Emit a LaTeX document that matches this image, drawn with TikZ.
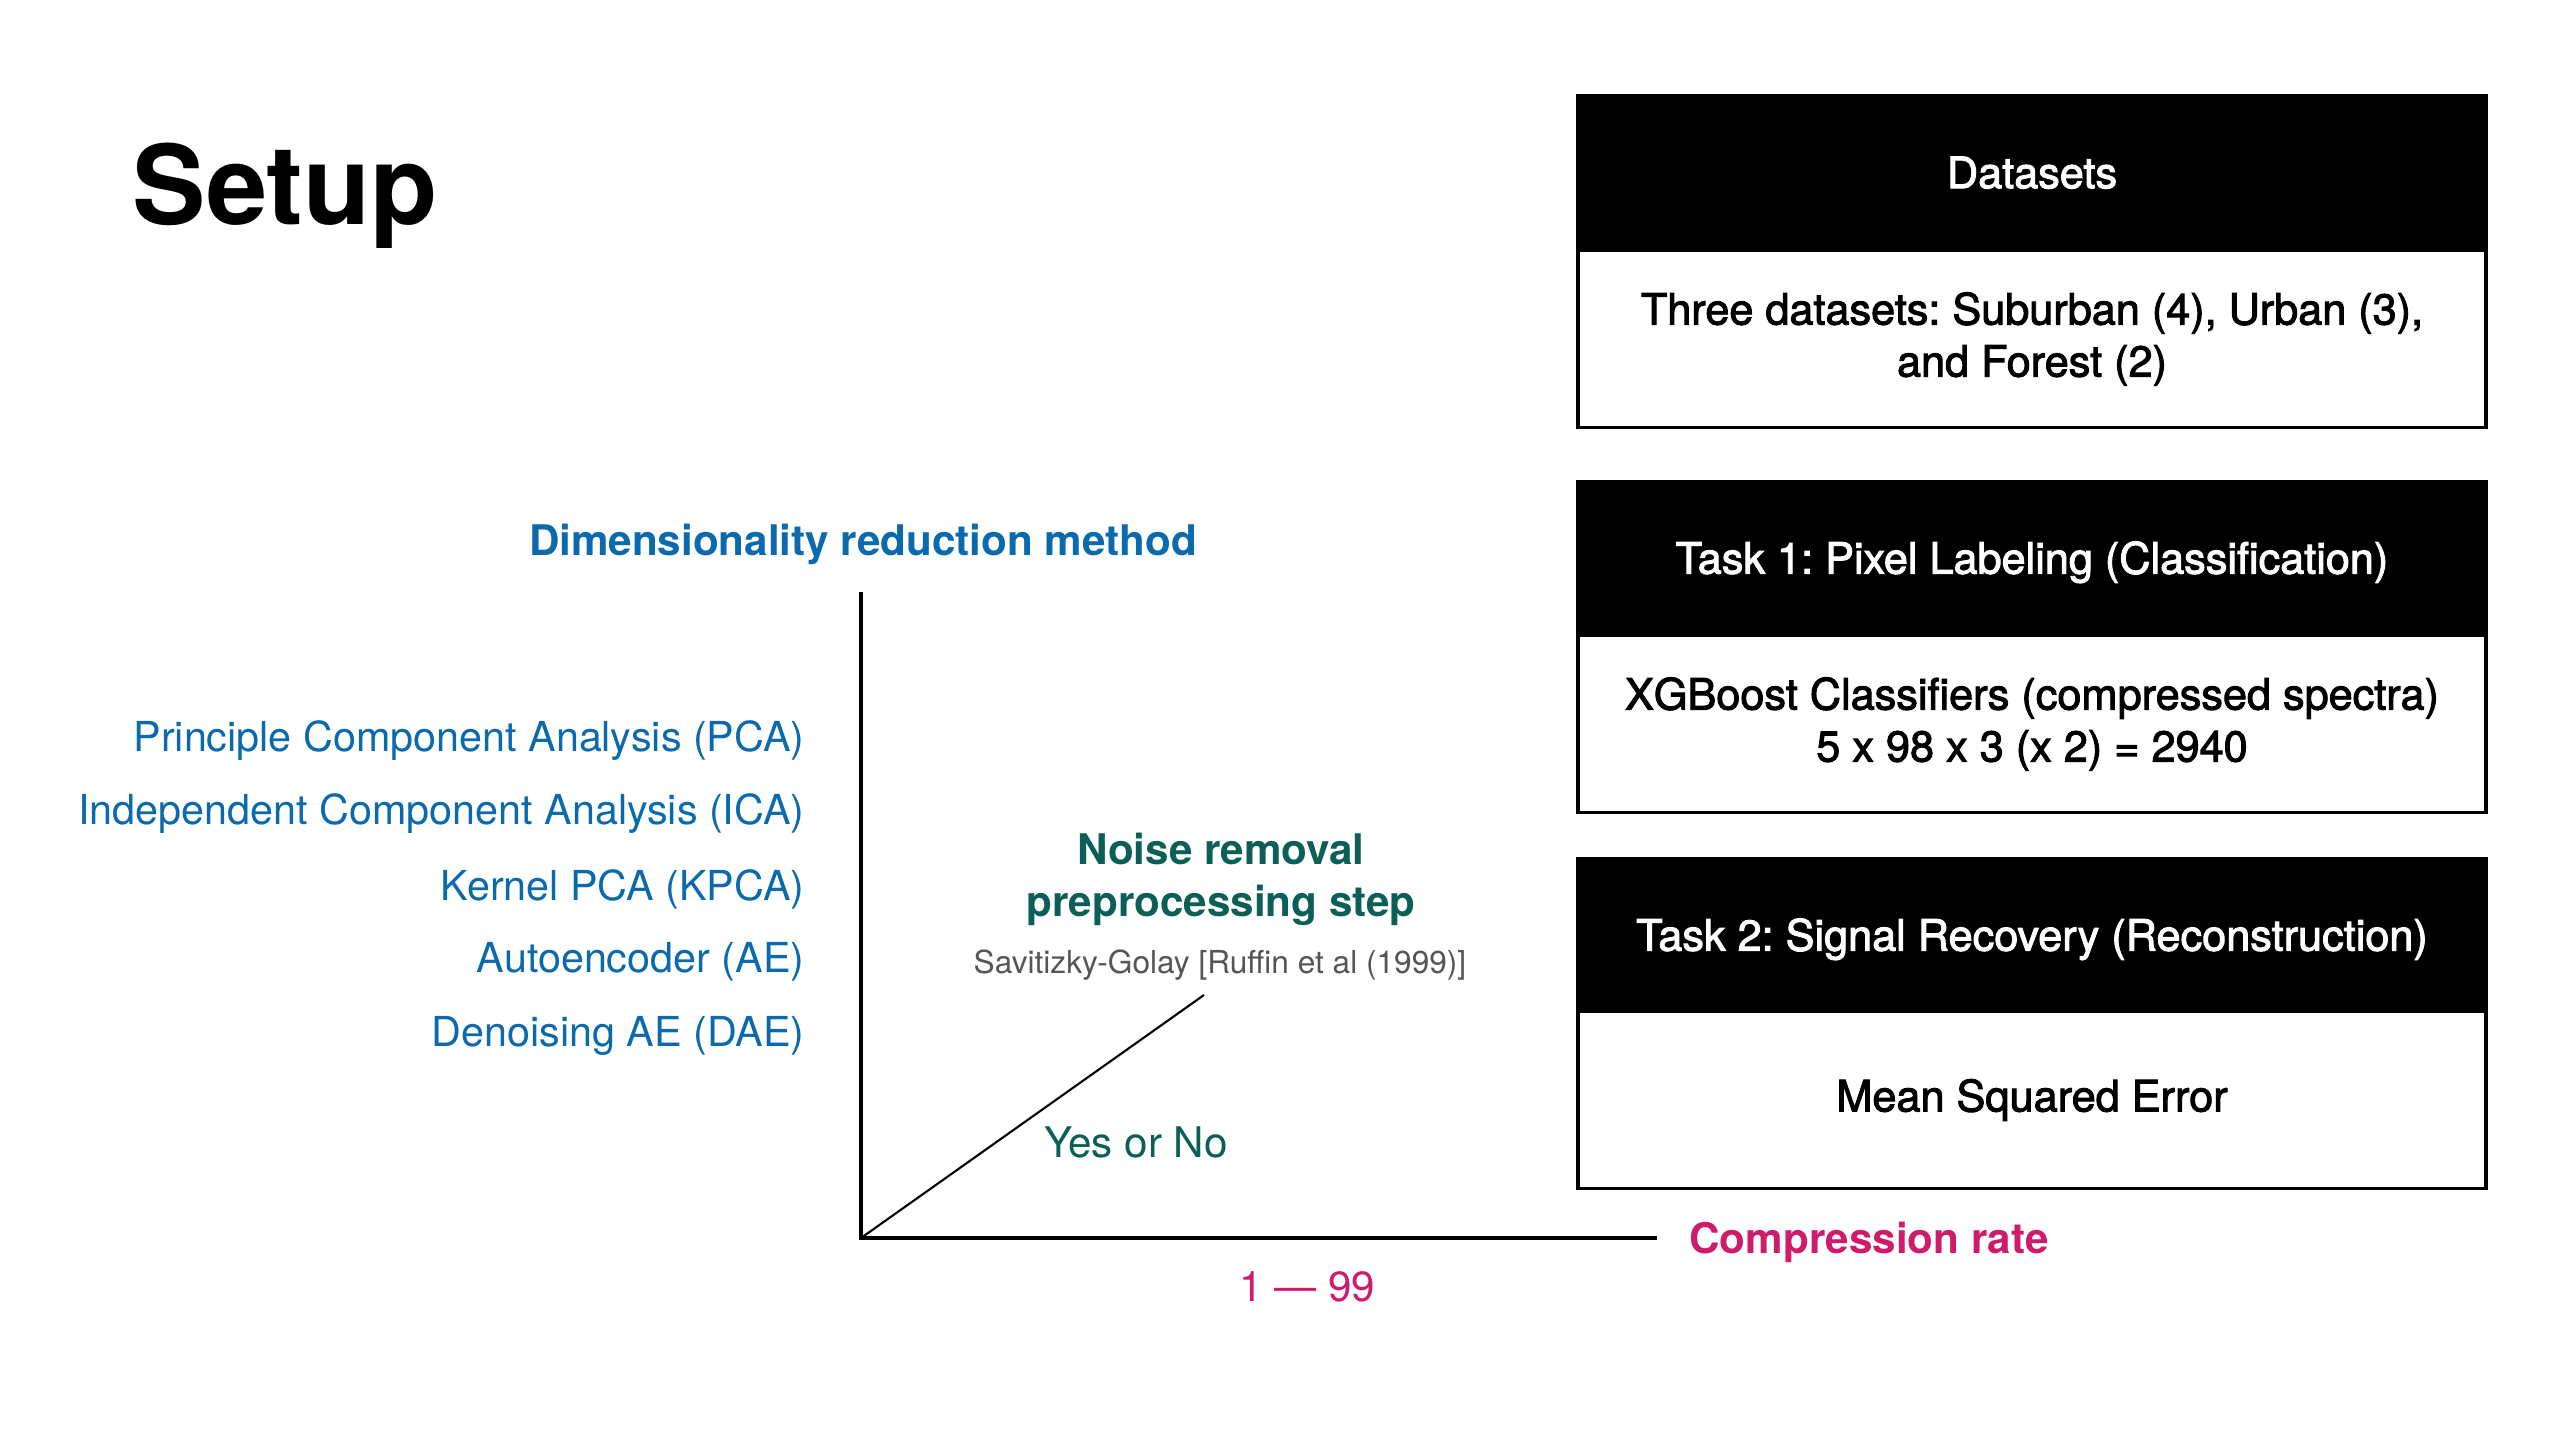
\documentclass[tikz,border=0pt]{standalone}
\usepackage{fontspec}
\setmainfont{TeX Gyre Heros}
\newfontfamily\medfont[FakeBold=2.2]{TeX Gyre Heros}
\definecolor{dimblue}{HTML}{0B69AD}
\definecolor{noisegreen}{HTML}{0B5F56}
\definecolor{compmag}{HTML}{CE1C6B}
\definecolor{citegray}{HTML}{555555}
\frenchspacing
\tikzset{
  txt/.style={inner sep=0pt, font=\fontsize{12}{14.8}\selectfont},
  hdrbox/.style={draw=black, fill=black, line width=1.1pt, minimum width=9.08cm, minimum height=1.52cm,
    text=white, align=center, inner sep=0pt, text height=0.92em, text depth=0pt,
    font=\medfont\fontsize{12.3}{14.8}\selectfont},
  bodybox/.style={draw=black, fill=white, line width=1.1pt, minimum width=9.08cm, minimum height=1.77cm,
    text=black, align=center, inner sep=0pt, font=\medfont\fontsize{12.3}{14.8}\selectfont},
  method/.style={inner sep=0pt, font=\fontsize{11.75}{14.5}\selectfont, text=dimblue, anchor=east},
  axis/.style={line width=0.9pt, black},
}
\begin{document}
\begin{tikzpicture}
\useasboundingbox (0,0) rectangle (25.57,-14.35);
\fill[white] (0,0) rectangle (25.57,-14.35);

% title
\node[anchor=base west, inner sep=0pt, font=\bfseries\fontsize{31.3}{38}\selectfont] (title) at (1.32,-2.25) {Setup};

% right boxes
\node[bodybox] (dsb) at (20.32,-3.39) {Three datasets: Suburban (4), Urban (3),\\and Forest (2)};
\node[hdrbox] (dsh) at (20.32,-1.72) {Datasets};

\node[bodybox] (t1b) at (20.32,-7.24) {XGBoost Classifiers (compressed spectra)\\5 x 98 x 3 (x 2) = 2940};
\node[hdrbox] (t1h) at (20.32,-5.575) {Task 1: Pixel Labeling (Classification)};

\node[bodybox] (t2b) at (20.32,-11.00) {Mean Squared Error};
\node[hdrbox] (t2h) at (20.32,-9.345) {Task 2: Signal Recovery (Reconstruction)};

% axes
\coordinate (O) at (8.61,-12.38);
\coordinate (ytop) at (8.61,-5.92);
\coordinate (xend) at (16.57,-12.38);
\coordinate (diag) at (12.04,-9.95);
\draw[axis] (ytop) -- (O) -- (xend);
\draw[line width=0.6pt] (O) -- (diag);

% axis labels
\node[txt, text=dimblue, font=\bfseries\fontsize{12}{14.8}\selectfont] (dimlabel) at (8.63,-5.44) {Dimensionality reduction method};
\node[method] (m1) at (8.05,-7.41) {Principle Component Analysis (PCA)};
\node[method] (m2) at (8.05,-8.14) {Independent Component Analysis (ICA)};
\node[method] (m3) at (8.05,-8.89) {Kernel PCA (KPCA)};
\node[method] (m4) at (8.05,-9.62) {Autoencoder (AE)};
\node[method] (m5) at (8.05,-10.36) {Denoising AE (DAE)};

\node[txt, text=noisegreen, align=center, font=\bfseries\fontsize{12}{14.8}\selectfont] (noise) at (12.21,-8.79) {Noise removal\\preprocessing step};
\node[txt, text=citegray, font=\fontsize{9}{11}\selectfont] (cite) at (12.20,-9.65) {Savitizky-Golay [Ruffin et al (1999)]};
\node[txt, text=noisegreen] (yesno) at (11.36,-11.42) {Yes or No};

\node[txt, text=compmag, font=\bfseries\fontsize{12}{14.8}\selectfont] (comp) at (18.69,-12.42) {Compression rate};
\node[txt, text=compmag] (range) at (13.07,-12.87) {1 — 99};
\end{tikzpicture}
\end{document}
